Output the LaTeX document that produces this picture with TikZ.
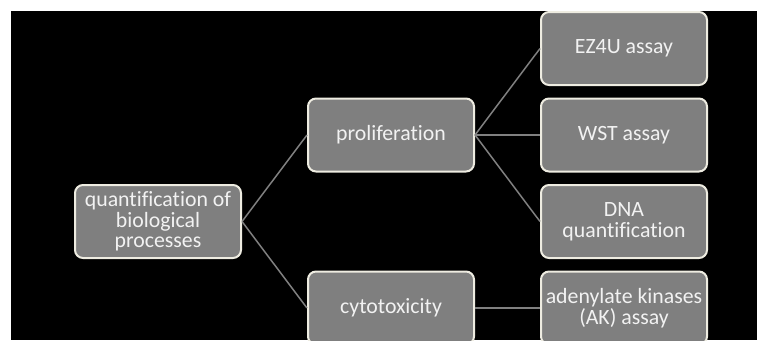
\documentclass[tikz,border=0pt]{standalone}
\usepackage{fontspec}
\setmainfont{Carlito}[Ligatures=CommonOff]
\usepackage{tikz}
\usetikzlibrary{positioning}
\definecolor{procfill}{HTML}{7F7F7F}
\definecolor{procedge}{HTML}{EEECE1}
\definecolor{proctext}{HTML}{F2F2F2}
\definecolor{proclink}{HTML}{808080}

\begin{document}
\begin{tikzpicture}[
        x=1pt, y=1pt,
        node distance=11.5pt and 65pt,
        process/.style={
            draw=procedge,
            line width=2pt,
            rounded corners=8pt,
            fill=procfill,
            text=proctext,
            minimum width=166pt,
            minimum height=73pt,
            inner sep=2pt,
            align=center,
            font=\fontsize{21.8}{20.7}\selectfont
        },
        link/.style={proclink, line width=1.5pt}
    ]
        \fill[white] (0,0) rectangle (757,-340);
        \useasboundingbox (0,0) rectangle (757,-340);
        \fill[black] (11,-11) rectangle (757,-340);
        \clip (11,-11) rectangle (757,-340);

        \node[process] (quant) at (158,-221.5) {quantification of\\biological\\processes};
        \node[process, right=of quant, yshift=86.5pt] (prolif) {proliferation};
        \node[process, right=of quant, yshift=-86.5pt] (cyto) {cytotoxicity};

        \node[process, right=of prolif] (wst) {WST assay};
        \node[process, above=of wst] (ezfu) {EZ4U assay};
        \node[process, below=of wst] (dna) {DNA\\quantification};
        \node[process, right=of cyto] (ak) {adenylate kinases\\(AK) assay};

        \draw[link] (quant.east) -- (prolif.west);
        \draw[link] (quant.east) -- (cyto.west);
        \draw[link] (prolif.east) -- (ezfu.west);
        \draw[link] (prolif.east) -- (wst.west);
        \draw[link] (prolif.east) -- (dna.west);
        \draw[link] (cyto.east) -- (ak.west);
    \end{tikzpicture}
\end{document}
